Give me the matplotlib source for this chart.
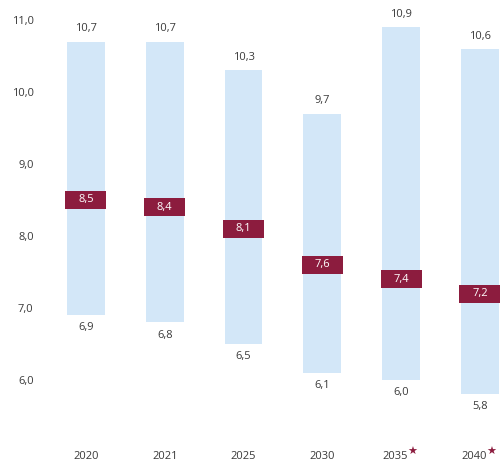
import numpy as np
import matplotlib
matplotlib.use("Agg")
import matplotlib.pyplot as plt

# data
years = ['2020', '2021', '2025', '2030', '2035', '2040']
starred = [False, False, False, False, True, True]
low = [6.9, 6.8, 6.5, 6.1, 6.0, 5.8]
high = [10.7, 10.7, 10.3, 9.7, 10.9, 10.6]
mid = [8.5, 8.4, 8.1, 7.6, 7.4, 7.2]
yticks = [6.0, 7.0, 8.0, 9.0, 10.0, 11.0]

bar_col = '#d3e7f8'
box_col = '#8c1c3e'
txt_col = '#3a3a3a'

def fmt(v):
    return f"{v:.1f}".replace('.', ',')

plt.rcParams['font.family'] = ['Open Sans', 'DejaVu Sans']

fig = plt.figure(figsize=(5.0, 4.67), dpi=100)
ax = fig.add_axes([42 / 500, 0, 458 / 500, 1])
x = np.arange(len(years))

ax.bar(x, np.array(high) - np.array(low), bottom=low, width=0.48,
       color=bar_col, linewidth=0)
ax.bar(x, 0.25, bottom=np.array(mid) - 0.125, width=0.52,
       color=box_col, linewidth=0)

for i in range(len(years)):
    ax.text(x[i], high[i] + 0.1, fmt(high[i]), ha='center', va='bottom',
            fontsize=8, color=txt_col)
    ax.text(x[i], low[i] - 0.1, fmt(low[i]), ha='center', va='top',
            fontsize=8, color=txt_col)
    ax.text(x[i], mid[i], fmt(mid[i]), ha='center', va='center',
            fontsize=8, color='white')
    dx = -4.5 if starred[i] else 0
    ax.annotate(years[i], (x[i], 4.93), xytext=(dx, 0), textcoords='offset points',
                ha='center', va='center', fontsize=8, color=txt_col)
    if starred[i]:
        ax.annotate('★', (x[i], 4.93), xytext=(8, 3.5), textcoords='offset points',
                    ha='center', va='center', fontsize=8, color=box_col,
                    family='DejaVu Sans')

ax.set_xlim(-0.558, 5.254)
ax.set_ylim(4.79, 11.278)
ax.set_yticks(yticks)
ax.set_yticklabels([fmt(v) for v in yticks], fontsize=8, color=txt_col)
ax.tick_params(axis='y', length=0, pad=6)
ax.set_xticks([])
for s in ax.spines.values():
    s.set_visible(False)

fig.savefig('out.png', dpi=100)
